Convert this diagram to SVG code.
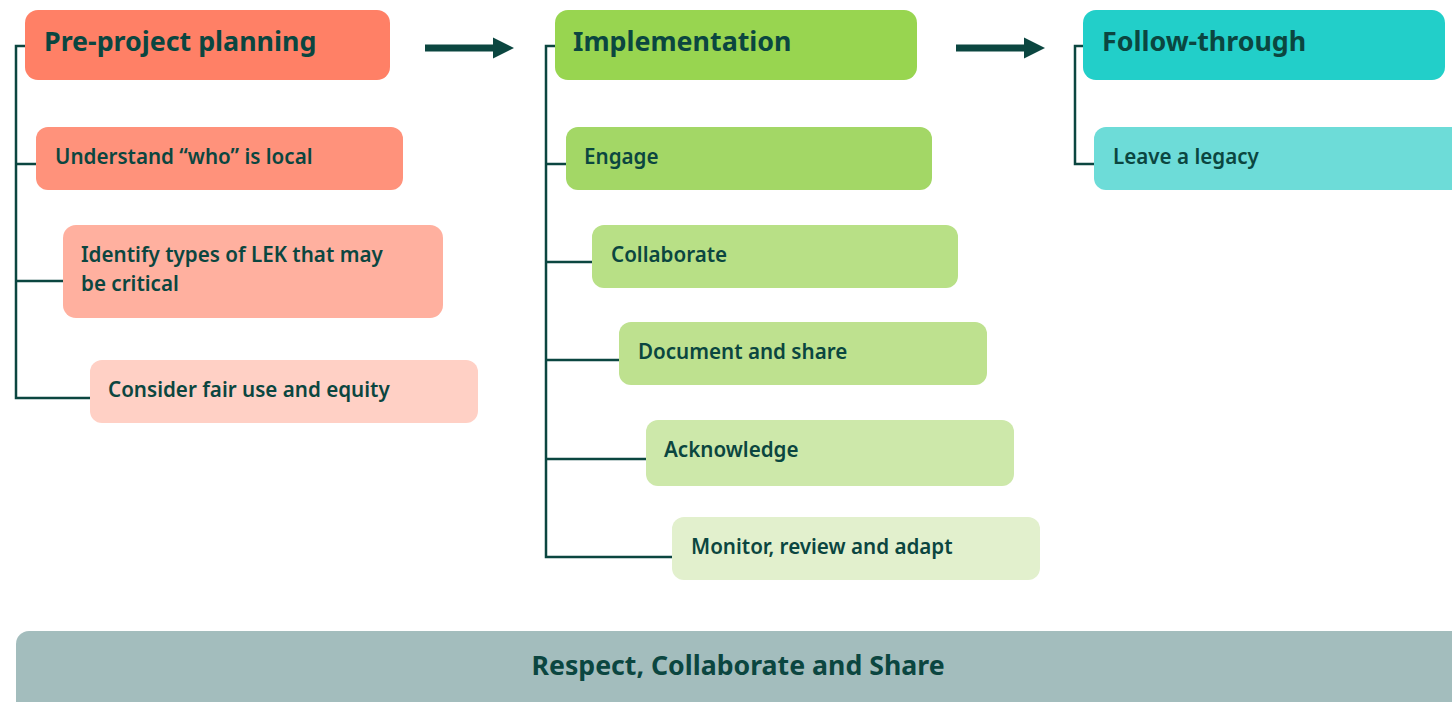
<svg xmlns="http://www.w3.org/2000/svg" width="1452" height="702" viewBox="0 0 1452 702">
<style>
text{font-family:"Noto Sans","Open Sans","Liberation Sans",sans-serif;fill:#0B4640;}
.h{font-size:26.8px;font-weight:700;}
.t{font-size:20.6px;font-weight:600;}
.b{font-size:26.7px;font-weight:700;}
.c{fill:none;stroke:#0B4640;stroke-width:2.5;}
.a{fill:none;stroke:#0B4640;stroke-width:7;}
</style>
<defs>
<marker id="ah" viewBox="0 0 10 10" refX="0" refY="5" markerWidth="3" markerHeight="3.4" orient="auto" markerUnits="strokeWidth">
<path d="M0,0 L10,5 L0,10 Z" fill="#0B4640"/>
</marker>
</defs>
<rect width="1452" height="702" fill="#FFFFFF"/>
<g id="connectors">
<polyline class="c" points="25,46 16,46 16,398 90,398"/>
<line class="c" x1="16" y1="164" x2="36" y2="164"/>
<line class="c" x1="16" y1="281" x2="63" y2="281"/>
<polyline class="c" points="555,46 546,46 546,557 672,557"/>
<line class="c" x1="546" y1="164" x2="566" y2="164"/>
<line class="c" x1="546" y1="262" x2="592" y2="262"/>
<line class="c" x1="546" y1="360" x2="619" y2="360"/>
<line class="c" x1="546" y1="459" x2="646" y2="459"/>
<polyline class="c" points="1083,46 1075,46 1075,164 1094,164"/>
<line class="a" x1="425" y1="48" x2="493" y2="48" marker-end="url(#ah)"/>
<line class="a" x1="956" y1="48" x2="1024" y2="48" marker-end="url(#ah)"/>
</g>
<g id="pre-project">
<rect x="25" y="10" width="365" height="70" rx="13" fill="#FF8066"/>
<text class="h" x="44" y="51">Pre-project planning</text>
</g>
<g id="understand">
<rect x="36" y="127" width="367" height="63" rx="12" fill="#FF927B"/>
<text class="t" x="55" y="164">Understand “who” is local</text>
</g>
<g id="identify">
<rect x="63" y="225" width="380" height="93" rx="13" fill="#FFB09F"/>
<text class="t" x="81" y="262">Identify types of LEK that may</text>
<text class="t" x="81" y="291">be critical</text>
</g>
<g id="consider">
<rect x="90" y="360" width="388" height="63" rx="12" fill="#FFD0C5"/>
<text class="t" x="108" y="397">Consider fair use and equity</text>
</g>
<g id="implementation">
<rect x="555" y="10" width="362" height="70" rx="13" fill="#98D550"/>
<text class="h" x="573" y="51">Implementation</text>
</g>
<g id="engage">
<rect x="566" y="127" width="366" height="63" rx="12" fill="#A3D766"/>
<text class="t" x="584" y="164">Engage</text>
</g>
<g id="collaborate">
<rect x="592" y="225" width="366" height="63" rx="12" fill="#B8E086"/>
<text class="t" x="611" y="262">Collaborate</text>
</g>
<g id="document">
<rect x="619" y="322" width="368" height="63" rx="12" fill="#BEE18F"/>
<text class="t" x="638" y="359">Document and share</text>
</g>
<g id="acknowledge">
<rect x="646" y="420" width="368" height="66" rx="12" fill="#CDE8AA"/>
<text class="t" x="664" y="457">Acknowledge</text>
</g>
<g id="monitor">
<rect x="672" y="517" width="368" height="63" rx="12" fill="#E2F0CD"/>
<text class="t" x="691" y="554">Monitor, review and adapt</text>
</g>
<g id="follow-through">
<rect x="1083" y="10" width="362" height="70" rx="13" fill="#22CFC9"/>
<text class="h" x="1102" y="51">Follow-through</text>
</g>
<g id="legacy">
<rect x="1094" y="127" width="370" height="63" rx="12" fill="#6DDCD8"/>
<text class="t" x="1113" y="164">Leave a legacy</text>
</g>
<g id="footer">
<rect x="16" y="631" width="1450" height="90" rx="13" fill="#A3BDBD"/>
<text class="b" x="738" y="675" text-anchor="middle">Respect, Collaborate and Share</text>
</g>
</svg>
